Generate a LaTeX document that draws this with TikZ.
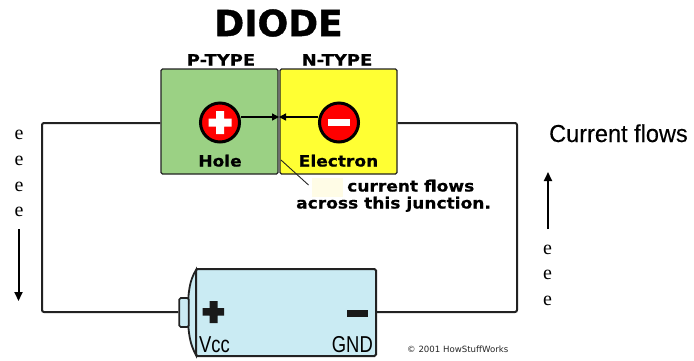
\documentclass[tikz,border=0pt]{standalone}
\usepackage{fontspec}
\setmainfont{Liberation Sans}
\newfontfamily\vb{DejaVu Sans}
\newfontfamily\vbt[FakeBold=1.2]{DejaVu Sans Bold}
\newfontfamily\vbw[FakeStretch=1.1,FakeBold=0.6]{DejaVu Sans Bold}
\newfontfamily\vbh[FakeStretch=1.16,FakeBold=0.6]{DejaVu Sans Bold}
\newfontfamily\narrow[FakeStretch=0.8]{Liberation Sans}
\newfontfamily\nearfull[FakeStretch=0.96,FakeBold=0.3]{Liberation Sans}
\newfontfamily\ser{Liberation Serif}
\usetikzlibrary{arrows.meta}
\definecolor{pgreen}{HTML}{9BD184}
\definecolor{nyellow}{HTML}{FFFF33}
\definecolor{batblue}{HTML}{CAEBF3}
\definecolor{ink}{HTML}{222222}
\definecolor{cream}{HTML}{FFFCE6}
\tikzset{
  wire/.style={draw=ink,line width=2pt,rounded corners=2pt},
  slab/.style={draw=ink,line width=1.3pt,rounded corners=1.5pt,inner sep=0pt,minimum height=105pt,minimum width=117pt},
  carrier/.style={circle,draw=black,fill=red,line width=3pt,minimum size=39pt,inner sep=0pt},
  lab/.style={inner sep=0pt,text=black},
  ee/.style={font=\ser\fontsize{20}{20}\selectfont,inner sep=0pt,text=black},
  thin label/.style={inner sep=0pt,text=black},
  flow/.style={-{Triangle[length=9pt,width=8pt]},line width=2pt,black},
  meet/.style={-{Triangle[length=7pt,width=7pt]},line width=1.4pt,black}
}
\begin{document}
\begin{tikzpicture}[x=1pt,y=-1pt]
\useasboundingbox (0,0) rectangle (694,360);
% battery
\draw[draw=ink,fill=batblue,line width=1.8pt] (196,270) .. controls (190,280) and (188,290) .. (188,312) .. controls (188,334) and (190,344) .. (196,355) -- cycle;
\node (batbody) at (286,312.5) [draw=ink,fill=batblue,line width=2pt,rounded corners=1.5pt,minimum width=180pt,minimum height=87pt,inner sep=0pt] {};
\node (batcap) at (184,312.5) [draw=ink,fill=batblue,line width=1.6pt,rounded corners=1.5pt,minimum width=9.5pt,minimum height=29pt,inner sep=0pt] {};
\fill[black!90] (209.5,301) rectangle (217.5,323) (202.5,308) rectangle (224,315.5);
\fill[black!90] (346.5,309.5) rectangle (367.5,316.5);
% slabs
\node[slab,fill=pgreen] (ptype) at (219.5,121.5) {};
\node[slab,fill=nyellow] (ntype) at (338.5,121.5) {};
% wires
\coordinate (tl) at (42,123);
\coordinate (bl) at (42,312);
\coordinate (tr) at (517,123);
\coordinate (br) at (517,312);
\draw[wire] (ptype.west |- tl) -- (tl) -- (bl) -- (batcap.west |- bl);
\draw[wire] (ntype.east |- tr) -- (tr) -- (br) -- (batbody.east |- br);
% carriers
\node[carrier] (plus) at (220,122.5) {};
\node[carrier] (minus) at (339,122.5) {};
\fill[white] (216,111) rectangle (224,134) (208.5,118.5) rectangle (231.5,126.5);
\fill[white] (328,119) rectangle (350,126);
\coordinate (junc) at (279,117);
\draw[meet] (plus.east |- junc) -- (junc);
\draw[meet] (minus.west |- junc) -- (junc);
% titles
\node[lab,font=\vbt\fontsize{36}{36}\selectfont] (title) at (278.5,23) {DIODE};
\node[lab,font=\vbh\fontsize{15.5}{15.5}\selectfont,anchor=base] (ptext) at (221,65.5) {P-TYPE};
\node[lab,font=\vbh\fontsize{15.5}{15.5}\selectfont,anchor=base] (ntext) at (337,65.5) {N-TYPE};
\node[lab,font=\vbw\fontsize{15.5}{15.5}\selectfont,anchor=base] (hole) at (220,166.5) {Hole};
\node[lab,font=\vbw\fontsize{15.5}{15.5}\selectfont,anchor=base] (electron) at (338.5,166.5) {Electron};
% junction note
\node[fill=cream,minimum width=31pt,minimum height=19pt,inner sep=0pt] (patch) at (327.5,187.5) {};
\coordinate (leadend) at (281,160);
\draw[draw=ink,line width=0.9pt] (leadend) -- (308.5,185);
\node[lab,font=\vbw\fontsize{15.5}{15.5}\selectfont,anchor=base west] (n1) at (347,191.5) {current flows};
\node[lab,font=\vbw\fontsize{15.5}{15.5}\selectfont,anchor=base west] (n2) at (296,208.5) {across this junction.};
% battery labels
\node[thin label,anchor=base west,font=\narrow\fontsize{23}{23}\selectfont] (vcc) at (199,352) {Vcc};
\node[thin label,anchor=base east,font=\narrow\fontsize{23}{23}\selectfont] (gnd) at (373,352) {GND};
\node[font=\vb\fontsize{8.6}{8.6}\selectfont,anchor=base west,inner sep=0pt,text=black!85] (copy) at (407,352) {© 2001 HowStuffWorks};
% current labels
\node[thin label,font=\nearfull\fontsize{24.5}{24.5}\selectfont,anchor=base west] (cur) at (549,142) {Current flows};
\foreach \n/\x/\y in {a/19/135,b/19/161,c/19/187,d/19/212,f/547.5/250,g/547.5/275,h/547.5/301}
  \node[ee] (e\n) at (\x,\y) {e};
\coordinate (ds) at (18.5,229);
\coordinate (de) at (18.5,301);
\coordinate (us) at (548,229);
\coordinate (ue) at (548,172);
\draw[flow] (ds) -- (de);
\draw[flow] (us) -- (ue);
\end{tikzpicture}
\end{document}
